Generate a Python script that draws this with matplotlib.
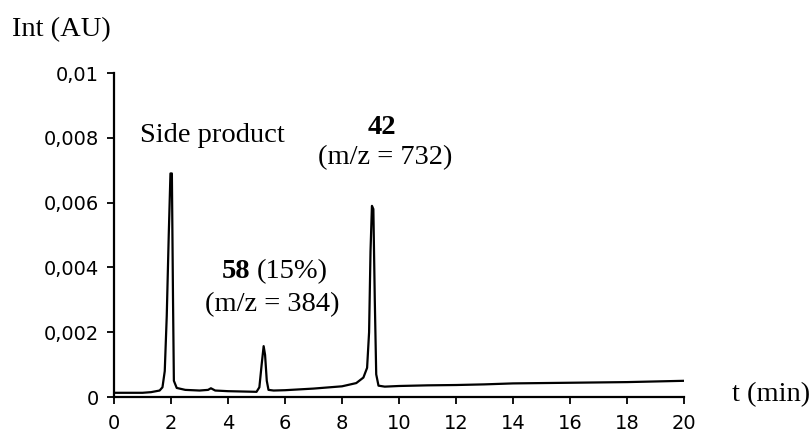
import matplotlib
matplotlib.use('Agg')
import matplotlib.pyplot as plt

# chromatogram trace
t_min = [0.0, 0.5, 1.0, 1.3, 1.6, 1.7, 1.78, 1.85, 1.92, 1.98, 2.03, 2.07, 2.1, 2.2,
         2.5, 3.0, 3.3, 3.4, 3.55, 4.0, 4.5, 5.0, 5.1, 5.18, 5.25, 5.3, 5.36, 5.42,
         5.6, 6.0, 7.0, 8.0, 8.5, 8.75, 8.88, 8.95, 9.0, 9.05, 9.1, 9.15, 9.2, 9.28,
         9.5, 10.0, 10.5, 11.0, 12.0, 13.0, 14.0, 16.0, 18.0, 20.0]
intensity = [0.00013, 0.00013, 0.00013, 0.00015, 0.0002, 0.0003, 0.0008, 0.0025, 0.005,
             0.0069, 0.0069, 0.003, 0.0005, 0.00028,
             0.00022, 0.0002, 0.00022, 0.00027, 0.0002, 0.00018, 0.00017, 0.00016, 0.0003,
             0.001, 0.00157, 0.0013, 0.0005, 0.00022,
             0.0002, 0.00021, 0.00026, 0.00033, 0.00043, 0.0006, 0.0009, 0.002, 0.0045,
             0.0059, 0.0058, 0.003, 0.0007, 0.00035,
             0.00032, 0.00034, 0.00035, 0.00036, 0.00037, 0.00039, 0.00042, 0.00044,
             0.00046, 0.0005]

x_ticks = [0, 2, 4, 6, 8, 10, 12, 14, 16, 18, 20]
y_ticks = [0, 0.002, 0.004, 0.006, 0.008, 0.01]
y_labels = ['0', '0,002', '0,004', '0,006', '0,008', '0,01']

SERIF = 'Liberation Serif'
FS = 20.5

fig = plt.figure(figsize=(8.11, 4.32), dpi=100)
ax = fig.add_axes([0.1406, 0.081, 0.7028, 0.75])

ax.plot(t_min, intensity, color='black', linewidth=1.6)
ax.set_xlim(0, 20)
ax.set_ylim(0, 0.01)
ax.set_xticks(x_ticks)
ax.set_xticklabels([str(v) for v in x_ticks])
ax.set_yticks(y_ticks)
ax.set_yticklabels(y_labels)

for sp in ['top', 'right']:
    ax.spines[sp].set_visible(False)
for sp in ['left', 'bottom']:
    ax.spines[sp].set_linewidth(1.6)
ax.tick_params(direction='out', length=5, width=1.3, labelsize=14, pad=6,
               colors='black')
ax.tick_params(axis='x', pad=7)

# axis titles
fig.text(12 / 811, 1 - 30 / 432, 'Int (AU)', family=SERIF, fontsize=FS,
         ha='left', va='center')
fig.text(732 / 811, 1 - 395 / 432, 't (min)', family=SERIF, fontsize=FS,
         ha='left', va='center')

# peak annotations
ax.text(0.91, 0.00807, 'Side product', family=SERIF, fontsize=FS, ha='left', va='center')
ax.text(9.4, 0.00833, '42', family=SERIF, fontsize=FS, weight='bold', ha='center', va='center')
ax.text(9.5, 0.00738, '(m/z = 732)', family=SERIF, fontsize=FS, ha='center', va='center')
ax.text(4.77, 0.00386, '58', family=SERIF, fontsize=FS, weight='bold', ha='right', va='center')
ax.text(5.02, 0.00386, '(15%)', family=SERIF, fontsize=FS, ha='left', va='center')
ax.text(5.54, 0.00284, '(m/z = 384)', family=SERIF, fontsize=FS, ha='center', va='center')

fig.savefig('out.png', dpi=100, facecolor='white')
